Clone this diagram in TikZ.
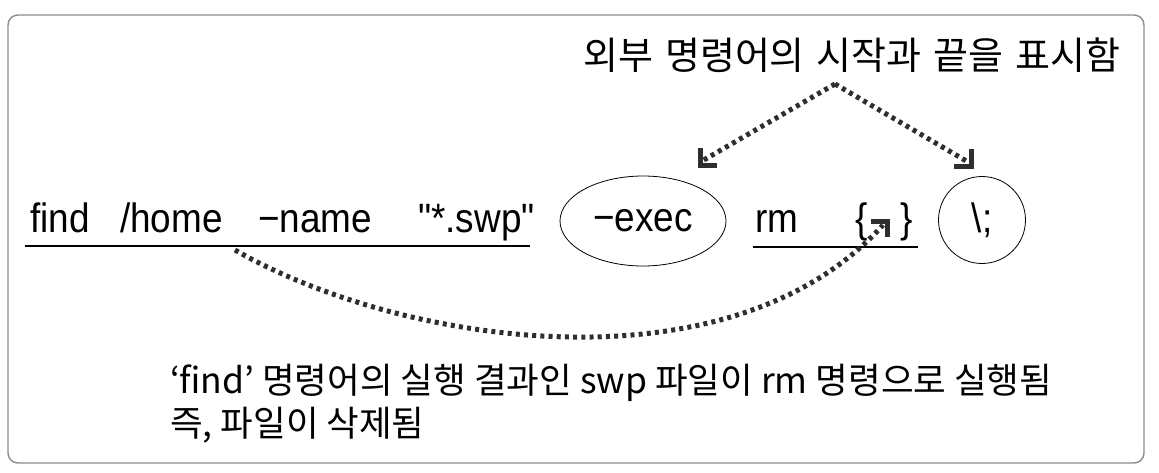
\documentclass[tikz,border=0pt]{standalone}
\usepackage{fontspec}
\setmainfont{Liberation Sans}
\newfontfamily\kr{Noto Sans CJK KR}
\newfontfamily\cmdfont[FakeStretch=0.9]{Liberation Sans}
\usetikzlibrary{shapes.geometric}
\begin{document}
\begin{tikzpicture}[x=1pt,y=-1pt,
  cmd/.style={font=\cmdfont\fontsize{41}{41}\selectfont, inner sep=0pt, anchor=base west},
  krtext/.style={font=\kr\fontsize{35.5}{35.5}\selectfont, inner sep=0pt, anchor=west},
  uline/.style={line width=1.3pt},
  dotline/.style={line width=5pt, dash pattern=on 4pt off 4.2pt, color=black!82},
  lhead/.style={line width=5pt, color=black!82, miter limit=10},
  frame/.style={draw=black!45, line width=1.4pt, rounded corners=10pt}]
\useasboundingbox (0,0) rectangle (1159,472);
\draw[frame] (8,15) rectangle (1144,463);
% top label
\node[krtext, font=\kr\fontsize{38}{38}\selectfont] (top) at (583,55) {\spaceskip=12pt 외부 명령어의 시작과 끝을 표시함};
% command line
\node[cmd] (find) at (30,232) {find};
\node[cmd] (home) at (120,232) {/home};
\node[cmd] (name) at (258,232) {−name};
\node[cmd] (swp) at (418,232) {"*.swp"};
\node[draw, ellipse, line width=0.8pt, minimum width=166pt, minimum height=90pt,
      inner sep=0pt, font=\cmdfont\fontsize{41}{41}\selectfont] (exec) at (643,221) {−exec};
\node[cmd] (rm) at (755,232) {rm};
\node[cmd] (lb) at (855,232) {\{};
\node[cmd] (rb) at (900,232) {\}};
\node[draw, circle, line width=0.8pt, minimum size=87pt, inner sep=0pt,
      font=\cmdfont\fontsize{41}{41}\selectfont] (semi) at (982,220) {\textbackslash;};
% underlines
\coordinate (u1a) at (25,246);
\coordinate (u1b) at (530,246);
\coordinate (u2a) at (753,247);
\coordinate (u2b) at (918,247);
\draw[uline] (u1a) -- (u1b);
\draw[uline] (u2a) -- (u2b);
% top arrows
\coordinate (apex) at (835,84);
\coordinate (leftend) at (702,161);
\coordinate (rightend) at (968,162);
\coordinate (lcorner) at (700,165);
\coordinate (rcorner) at (971,166);
\draw[dotline] (apex) -- (leftend);
\draw[dotline] (apex) -- (rightend);
\draw[lhead] (lcorner) +(0,-17) -- (lcorner) -- +(17,0);
\draw[lhead] (rcorner) +(0,-17) -- (rcorner) -- +(-17,0);
% bottom arc
\coordinate (arcstart) at (235,250);
\coordinate (arcend) at (883,225);
\coordinate (acorner) at (887,221);
\draw[dotline] (arcstart) .. controls (400,345) and (730,395) .. (arcend);
\draw[lhead] (acorner) +(-16,0) -- (acorner) -- +(0,16);
% bottom text
\node[krtext] (b1) at (170,383) {‘find’ 명령어의 실행 결과인 swp 파일이 rm 명령으로 실행됨};
\node[krtext] (b2) at (170,425) {즉, 파일이 삭제됨};
\end{tikzpicture}
\end{document}
